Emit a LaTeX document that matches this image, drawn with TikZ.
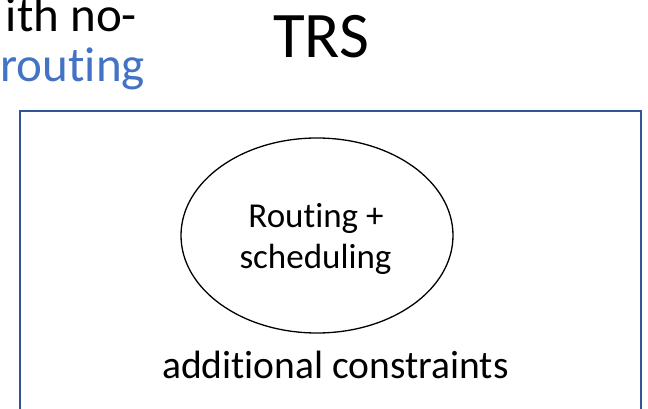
\documentclass[tikz,border=0pt]{standalone}
\usepackage{fontspec}
\setmainfont{Carlito}[RawFeature=-liga]
\usetikzlibrary{shapes.geometric}
\definecolor{boxblue}{HTML}{2F5597}
\definecolor{textblue}{HTML}{4472C4}
\begin{document}
\begin{tikzpicture}[x=1pt,y=-1pt,
  txt/.style={inner sep=0pt,outer sep=0pt},
  frame/.style={draw=boxblue,line width=2pt,minimum width=621pt,minimum height=330pt,inner sep=0pt},
  oval/.style={draw=black,line width=1.3pt,ellipse,minimum width=272pt,minimum height=195pt,inner sep=0pt}]
\useasboundingbox (0,0) rectangle (648,409);
\node[frame] (box) at (330.5,276) {};
\node[txt,anchor=base,font=\fontsize{65}{70}\selectfont] (trs) at (321,58) {TRS};
\node[txt,anchor=base east,font=\fontsize{49}{50}\selectfont] (l1) at (137,32) {ith no-};
\node[txt,anchor=base east,font=\fontsize{49}{50}\selectfont,text=textblue] (l2) at (145,82) {routing};
\node[oval] (rs) at (317,235.5) {};
\node[txt,anchor=base,font=\fontsize{35}{40}\selectfont] (t1) at (316,227.3) {Routing +};
\node[txt,anchor=base,font=\fontsize{35}{40}\selectfont] (t2) at (315.5,268) {scheduling};
\node[txt,anchor=base,font=\fontsize{39.5}{44}\selectfont] (ac) at (335.5,378) {additional constraints};
\end{tikzpicture}
\end{document}
